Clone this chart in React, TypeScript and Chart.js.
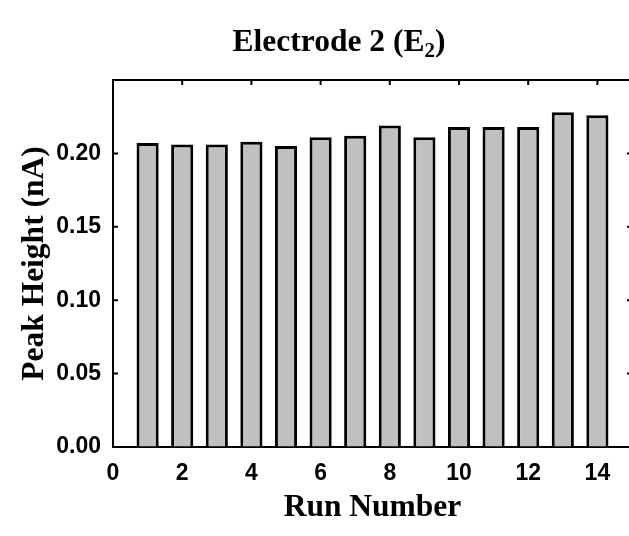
import { useEffect, useRef } from "react";
import { Chart, registerables } from "chart.js";

Chart.register(...registerables);

const runNumbers = [1, 2, 3, 4, 5, 6, 7, 8, 9, 10, 11, 12, 13, 14];
const peakHeights = [0.207, 0.206, 0.206, 0.208, 0.205, 0.211, 0.212, 0.219, 0.211, 0.218, 0.218, 0.218, 0.228, 0.226];
const yTickValues = [0.05, 0.1, 0.15, 0.2];
const xTickValues = [2, 4, 6, 8, 10, 12, 14];
const titleMain = "Electrode 2 (E";
const titleSub = "2";
const titleEnd = ")";

export default function App() {
  const ref = useRef<HTMLCanvasElement | null>(null);

  useEffect(() => {
    if (!ref.current) return;

    const framePlugin = {
      id: "frame",
      beforeDatasetsDraw(chart: any) {
        const { ctx, chartArea } = chart;
        const x = chart.scales.x;
        const y = chart.scales.y;
        ctx.save();
        ctx.strokeStyle = "#000";
        ctx.lineWidth = 2;
        ctx.beginPath();
        ctx.moveTo(chartArea.left, chartArea.top);
        ctx.lineTo(chartArea.right, chartArea.top);
        ctx.lineTo(chartArea.right, chartArea.bottom);
        for (const v of yTickValues) {
          const py = y.getPixelForValue(v);
          ctx.moveTo(chartArea.left, py);
          ctx.lineTo(chartArea.left + 5, py);
          ctx.moveTo(chartArea.right, py);
          ctx.lineTo(chartArea.right - 5, py);
        }
        for (const v of xTickValues) {
          const px = x.getPixelForValue(v);
          ctx.moveTo(px, chartArea.top);
          ctx.lineTo(px, chartArea.top + 5);
          ctx.moveTo(px, chartArea.bottom);
          ctx.lineTo(px, chartArea.bottom - 5);
        }
        ctx.stroke();
        ctx.restore();
      },
      afterDraw(chart: any) {
        const { ctx } = chart;
        ctx.save();
        ctx.fillStyle = "#000";
        ctx.textBaseline = "alphabetic";
        const bigFont = "bold 31.5px 'Liberation Serif', 'Times New Roman', serif";
        const smallFont = "bold 21px 'Liberation Serif', 'Times New Roman', serif";
        ctx.font = bigFont;
        const w1 = ctx.measureText(titleMain).width;
        const w3 = ctx.measureText(titleEnd).width;
        ctx.font = smallFont;
        const w2 = ctx.measureText(titleSub).width;
        const total = w1 + w2 + w3;
        const cx = 339;
        const baseY = 51;
        let x0 = cx - total / 2;
        ctx.textAlign = "left";
        ctx.font = bigFont;
        ctx.fillText(titleMain, x0, baseY);
        x0 += w1;
        ctx.font = smallFont;
        ctx.fillText(titleSub, x0, baseY + 6);
        x0 += w2;
        ctx.font = bigFont;
        ctx.fillText(titleEnd, x0, baseY);
        ctx.restore();
      },
    };

    const chart = new Chart(ref.current, {
      type: "bar",
      data: {
        datasets: [
          {
            data: runNumbers.map((r, i) => ({ x: r, y: peakHeights[i] })),
            backgroundColor: "#c0c0c0",
            borderColor: "#000",
            borderWidth: 3,
            barPercentage: 0.64,
            categoryPercentage: 1,
          },
        ],
      },
      options: {
        responsive: false,
        animation: false,
        devicePixelRatio: 1,
        layout: { padding: { left: 0, top: 80, right: 8, bottom: 0 } },
        plugins: {
          legend: { display: false },
          tooltip: { enabled: false },
          title: { display: false },
        },
        scales: {
          x: {
            type: "linear",
            offset: false,
            min: 0,
            max: 15,
            afterFit: (s: any) => {
              s.height = 89;
            },
            ticks: {
              stepSize: 2,
              includeBounds: false,
              color: "#000",
              padding: 13,
              maxRotation: 0,
              font: { family: "'Liberation Sans', Arial, sans-serif", size: 23, weight: "bold" },
            },
            grid: { display: true, offset: false, drawOnChartArea: false, drawTicks: false },
            border: { display: true, color: "#000", width: 2 },
            title: {
              display: true,
              text: "Run Number",
              color: "#000",
              padding: { top: 0, bottom: 9 },
              font: { family: "'Liberation Serif', 'Times New Roman', serif", size: 31.5, weight: "bold" },
            },
          },
          y: {
            type: "linear",
            min: 0,
            max: 0.25,
            afterFit: (s: any) => {
              s.width = 113;
            },
            ticks: {
              stepSize: 0.05,
              color: "#000",
              padding: 12,
              font: { family: "'Liberation Sans', Arial, sans-serif", size: 23, weight: "bold" },
              callback: (v: any) => (Number(v) > 0.2001 ? "" : Number(v).toFixed(2)),
            },
            grid: { display: true, drawOnChartArea: false, drawTicks: false },
            border: { display: true, color: "#000", width: 2 },
            title: {
              display: true,
              text: "Peak Height (nA)",
              color: "#000",
              padding: { top: 16, bottom: 0 },
              font: { family: "'Liberation Serif', 'Times New Roman', serif", size: 31.5, weight: "bold" },
            },
          },
        },
      },
      plugins: [framePlugin],
    } as any);

    return () => chart.destroy();
  }, []);

  return (
    <div style={{ position: "fixed", left: 0, top: 0, width: 640, height: 536 }}>
      <canvas ref={ref} width={640} height={536} />
    </div>
  );
}
